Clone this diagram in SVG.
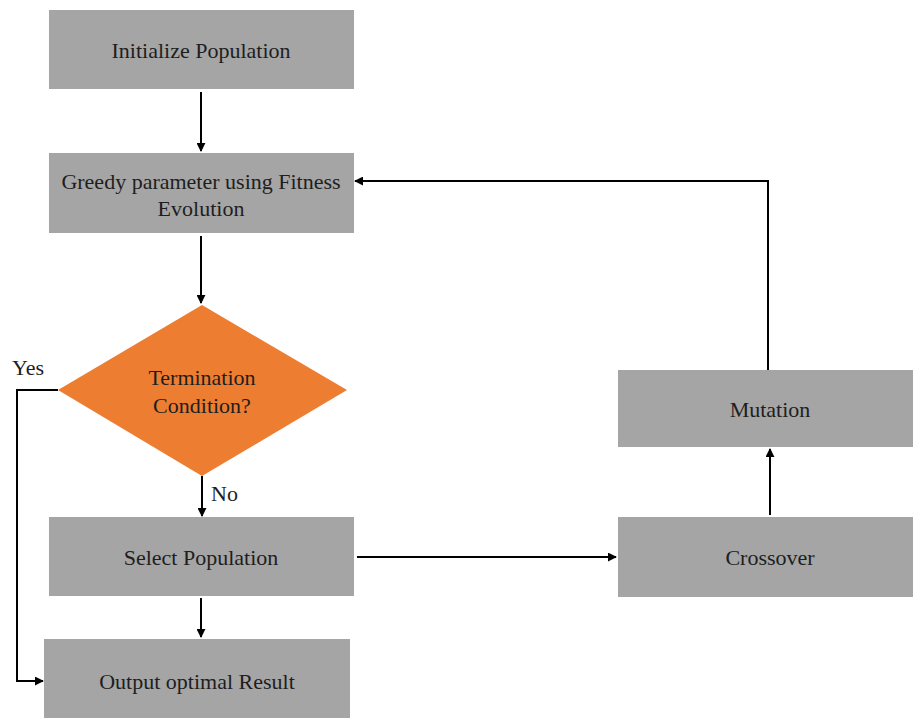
<svg xmlns="http://www.w3.org/2000/svg" width="913" height="718" viewBox="0 0 913 718">
<style>
.box{fill:#a5a5a5}
.dia{fill:#ed7d31}
text{font-family:'Liberation Serif','Times New Roman',serif;font-size:22px;fill:#1e1e1e;text-anchor:middle}
.lbl{text-anchor:start}
.c{stroke:#000;stroke-width:2;fill:none;marker-end:url(#ah)}
</style>
<defs>
<marker id="ah" viewBox="0 0 10 10" refX="9" refY="5" markerWidth="4.5" markerHeight="4.5" orient="auto" markerUnits="strokeWidth">
<path d="M0,0 L10,5 L0,10 z" fill="#000"/>
</marker>
</defs>
<rect width="913" height="718" fill="#fff"/>
<g id="connectors">
<path class="c" d="M201,92 V151"/>
<path class="c" d="M201,236 V303"/>
<path class="c" d="M202,476 V516"/>
<path class="c" d="M201,598 V637"/>
<path class="c" d="M58,390 H17 V681 H43"/>
<path class="c" d="M357,557 H616"/>
<path class="c" d="M770,515 V449"/>
<path class="c" d="M768,370 V181 H355"/>
</g>
<g id="init"><rect class="box" x="49" y="10" width="305" height="79"/><text x="201" y="58">Initialize Population</text></g>
<g id="greedy"><rect class="box" x="49" y="153" width="305" height="80"/><text x="201" y="189">Greedy parameter using Fitness</text><text x="201" y="216">Evolution</text></g>
<g id="term"><polygon class="dia" points="202,305 347,390 202,476 58,390"/><text x="202" y="385">Termination</text><text x="202" y="413">Condition?</text></g>
<g id="select"><rect class="box" x="49" y="517" width="305" height="79"/><text x="201" y="565">Select Population</text></g>
<g id="output"><rect class="box" x="44" y="639" width="306" height="79"/><text x="197" y="689">Output optimal Result</text></g>
<g id="crossover"><rect class="box" x="618" y="517" width="295" height="80"/><text x="770" y="565">Crossover</text></g>
<g id="mutation"><rect class="box" x="618" y="370" width="295" height="77"/><text x="770" y="417">Mutation</text></g>
<g id="labels"><text class="lbl" x="12" y="375">Yes</text><text class="lbl" x="211" y="501">No</text></g>
</svg>
